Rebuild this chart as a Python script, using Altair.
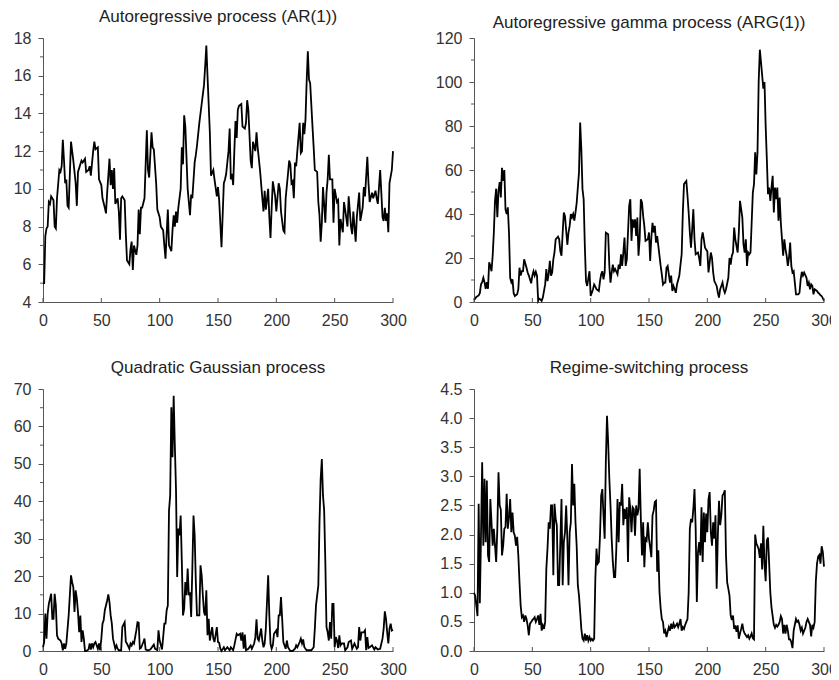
import altair as alt
import pandas as pd

FONT = "Liberation Sans"
AXC = "#555555"
LBC = "#333333"

X_TICKS = [0, 50, 100, 150, 200, 250, 300]

# ---- Autoregressive process (AR(1)) : (time, value)
AR1 = [(0,5.0),(1,5.0),(2,7.5),(3,7.9),(4,8.0),(5,9.3),(6,9.2),(7,9.6),(9,9.4),(10,8.0),(11,7.9),(12,9.5),(14,11.0),(15,10.9),(16,11.2),(17,12.6),(18,11.5),(19,10.3),(20,10.5),(21,9.1),(22,9.0),(24,12.5),(25,12.0),(26,11.5),(28,10.3),(29,9.1),(30,10.9),(31,11.1),(33,11.5),(34,11.4),(36,11.6),(37,10.9),(39,11.0),(40,11.2),(41,10.7),(43,12.0),(44,12.5),(45,12.1),(47,12.2),(48,10.5),(50,10.2),(51,9.5),(53,9.0),(54,8.7),(55,9.8),(57,11.6),(58,10.2),(59,11.0),(60,10.0),(61,11.1),(62,9.2),(64,9.5),(65,8.8),(66,7.3),(67,9.5),(68,9.6),(70,9.4),(71,7.6),(72,6.2),(74,6.0),(75,6.8),(76,7.2),(77,5.7),(78,7.0),(80,6.5),(81,7.0),(82,8.9),(83,7.6),(84,9.0),(85,9.0),(87,9.5),(89,13.1),(90,11.0),(91,10.6),(93,13.0),(94,12.2),(95,12.1),(97,10.3),(98,8.9),(100,8.5),(101,8.0),(103,7.8),(104,7.0),(105,6.3),(106,7.6),(107,8.9),(108,7.0),(110,6.7),(111,7.8),(112,8.6),(113,8.0),(114,8.8),(115,8.2),(116,9.0),(118,10.0),(119,12.2),(120,11.3),(121,13.9),(122,13.3),(124,10.0),(126,8.6),(127,9.7),(128,9.5),(130,11.4),(131,11.8),(132,12.3),(134,13.5),(136,14.5),(138,15.5),(139,16.5),(140,17.6),(141,16.0),(143,13.0),(144,10.7),(146,11.0),(147,10.5),(149,9.6),(150,10.1),(151,9.4),(153,6.9),(155,10.3),(156,10.5),(157,10.8),(159,12.0),(160,13.2),(161,10.5),(162,10.8),(163,10.2),(164,12.0),(165,13.6),(166,12.7),(167,14.2),(168,14.4),(170,14.5),(171,13.3),(173,13.2),(174,13.5),(175,14.7),(176,14.2),(178,11.5),(179,11.1),(180,12.5),(182,12.0),(183,13.0),(184,12.2),(186,11.0),(188,9.5),(189,8.8),(190,9.9),(191,8.9),(193,10.0),(194,8.5),(195,7.4),(196,9.0),(197,10.4),(199,9.6),(200,8.8),(202,10.3),(203,10.0),(204,8.8),(206,7.8),(207,7.7),(208,9.5),(210,10.8),(211,11.5),(212,11.3),(213,10.3),(214,10.4),(215,9.5),(216,11.4),(217,11.2),(218,12.0),(220,13.5),(221,11.9),(222,12.0),(223,13.5),(224,12.9),(225,13.7),(226,15.7),(227,17.3),(228,15.8),(229,15.6),(231,13.3),(232,12.2),(233,11.0),(235,10.9),(236,9.3),(237,8.6),(238,7.2),(239,8.2),(240,10.1),(242,8.2),(243,9.8),(244,10.5),(245,11.8),(246,10.5),(248,10.5),(249,8.2),(250,10.0),(252,9.3),(253,9.4),(254,7.0),(255,8.4),(257,7.7),(258,9.3),(259,8.9),(261,8.0),(262,9.6),(264,8.0),(265,7.6),(266,8.8),(268,7.2),(269,8.5),(271,9.8),(272,8.3),(274,9.0),(275,10.1),(276,9.6),(278,11.7),(279,10.3),(280,9.3),(282,9.8),(283,9.5),(285,9.9),(286,9.5),(287,9.2),(289,11.0),(290,9.8),(291,8.5),(292,8.3),(293,9.0),(294,8.3),(295,8.7),(296,7.7),(297,10.3),(299,11.0),(300,12.0)]

# ---- Autoregressive gamma process (ARG(1))
ARG1 = [(0,1.0),(1,1.5),(2,2.3),(4,3.0),(5,4.0),(6,8.0),(7,9.0),(8,11.0),(9,9.0),(10,6.0),(11,9.0),(12,6.0),(13,18.0),(14,16.5),(15,14.0),(16,21.0),(17,31.5),(18,46.0),(19,51.5),(20,38.5),(21,50.5),(22,54.5),(23,47.5),(24,61.0),(25,55.0),(26,60.0),(27,42.0),(28,40.0),(29,43.0),(30,31.5),(31,11.0),(32,9.0),(33,10.3),(34,4.0),(35,2.7),(37,3.5),(38,5.8),(39,15.6),(40,12.0),(41,14.0),(42,14.0),(43,19.4),(45,15.6),(46,13.4),(47,12.0),(49,8.5),(50,12.0),(51,14.0),(52,12.0),(53,13.7),(54,12.0),(55,0.5),(56,1.5),(57,1.2),(58,0.5),(59,2.0),(61,8.0),(62,15.0),(63,9.5),(64,12.6),(65,18.7),(66,12.0),(67,13.4),(68,19.4),(69,22.5),(70,28.5),(72,29.7),(73,28.5),(74,23.0),(75,21.0),(76,31.5),(77,40.7),(78,39.0),(80,26.0),(81,31.5),(82,34.6),(83,40.0),(84,38.5),(85,40.0),(86,37.0),(87,40.7),(88,45.0),(90,59.0),(91,81.6),(92,69.5),(93,51.3),(94,46.7),(95,25.5),(96,9.5),(97,7.3),(99,14.0),(100,2.7),(101,4.2),(102,5.8),(103,8.0),(104,7.0),(105,5.8),(107,5.0),(108,9.5),(109,12.6),(110,14.0),(111,10.3),(112,13.4),(113,31.5),(115,30.8),(116,16.4),(117,8.8),(118,13.4),(119,17.0),(120,14.0),(121,15.0),(123,12.6),(124,17.0),(125,15.0),(126,21.7),(127,16.4),(128,22.5),(129,29.3),(130,16.4),(131,19.4),(132,31.6),(133,43.7),(134,46.7),(135,27.8),(136,37.6),(137,33.8),(138,37.6),(139,30.0),(140,38.4),(141,21.0),(142,28.5),(143,46.7),(144,45.2),(145,39.0),(146,34.6),(147,27.8),(149,28.5),(150,31.6),(151,18.7),(152,29.3),(153,36.0),(154,31.6),(155,34.6),(156,27.0),(157,30.0),(158,25.5),(160,16.4),(161,12.6),(162,8.0),(163,8.8),(164,8.8),(165,15.6),(166,16.4),(168,8.8),(169,12.0),(170,5.0),(171,7.3),(172,5.8),(173,4.2),(174,8.0),(176,12.0),(177,17.0),(178,21.7),(179,40.7),(180,53.6),(182,55.0),(183,48.3),(184,40.7),(185,31.6),(186,24.7),(187,33.0),(188,42.2),(189,28.5),(190,21.7),(192,22.5),(193,20.0),(194,16.4),(195,28.5),(196,31.6),(197,28.5),(198,24.7),(200,23.0),(201,13.4),(202,18.0),(203,22.5),(204,20.0),(205,13.4),(206,9.5),(208,7.3),(209,4.2),(210,2.0),(211,5.8),(212,7.3),(213,8.8),(214,5.8),(215,4.2),(216,5.8),(218,11.0),(219,20.0),(220,17.0),(221,21.0),(222,22.5),(223,33.8),(224,28.5),(226,22.5),(227,31.6),(228,46.0),(229,42.2),(230,38.4),(231,26.2),(232,22.5),(233,28.5),(234,16.4),(235,22.5),(236,21.7),(237,22.5),(238,36.0),(239,49.7),(240,53.6),(241,68.0),(242,58.0),(243,68.0),(244,100.0),(245,114.7),(246,109.0),(247,103.0),(248,97.0),(249,100.0),(250,80.0),(251,65.0),(252,49.0),(253,52.0),(254,46.0),(255,52.0),(256,57.4),(257,40.7),(258,52.0),(259,46.7),(260,52.0),(261,37.0),(262,47.5),(263,36.0),(264,28.5),(265,21.0),(266,28.5),(267,24.0),(268,21.0),(269,16.4),(270,20.0),(271,27.0),(272,16.4),(273,13.4),(274,14.0),(275,8.8),(276,3.5),(278,3.5),(279,4.2),(280,10.3),(281,13.7),(282,12.0),(283,13.4),(285,11.0),(286,7.3),(287,8.8),(288,5.8),(289,8.0),(290,7.3),(291,3.5),(292,5.8),(294,5.0),(295,4.2),(296,3.8),(297,3.0),(298,2.7),(299,1.8),(300,0.5)]

# ---- Quadratic Gaussian process
QG = [(0,1.0),(1,2.4),(2,10.0),(3,3.3),(4,10.0),(5,12.6),(7,15.3),(8,8.6),(9,8.6),(10,15.3),(11,12.2),(12,4.2),(13,3.3),(15,2.8),(16,2.0),(17,0.2),(18,2.0),(19,0.6),(20,2.0),(22,9.5),(24,20.2),(25,18.4),(26,17.0),(27,10.4),(28,16.2),(29,14.0),(30,10.4),(31,5.0),(32,9.5),(33,2.4),(34,5.5),(35,3.3),(36,0.0),(37,0.0),(39,0.4),(40,2.0),(41,0.4),(42,2.0),(43,1.0),(44,2.0),(45,2.4),(47,0.6),(48,2.0),(49,0.2),(50,3.3),(51,7.3),(52,8.2),(53,10.9),(55,13.5),(56,15.1),(57,13.0),(58,9.5),(59,7.3),(60,3.3),(62,0.6),(63,1.5),(64,0.6),(65,0.2),(67,0.2),(68,6.4),(70,7.7),(71,2.4),(72,2.0),(74,0.6),(75,2.0),(76,1.5),(77,2.4),(78,2.0),(80,5.5),(81,7.7),(82,7.6),(83,0.6),(84,0.8),(86,2.4),(87,3.3),(88,0.4),(90,0.2),(92,0.4),(95,1.7),(96,0.6),(98,0.2),(99,5.5),(100,2.8),(102,0.4),(103,3.7),(104,7.3),(105,7.3),(106,10.9),(107,12.2),(108,37.5),(109,41.5),(110,65.1),(111,51.8),(112,68.2),(113,54.9),(114,43.3),(115,19.8),(116,32.7),(117,30.9),(118,36.2),(119,23.8),(120,9.5),(121,11.3),(122,18.4),(123,14.9),(124,22.0),(125,14.9),(126,15.7),(127,9.1),(128,22.0),(129,36.2),(130,30.9),(131,18.4),(132,9.5),(133,9.5),(134,9.5),(135,22.9),(136,20.2),(137,14.9),(138,10.4),(139,9.5),(140,16.2),(141,4.2),(142,8.6),(143,2.8),(144,4.6),(145,6.4),(146,3.3),(147,2.4),(149,6.4),(150,2.4),(151,2.2),(152,0.6),(153,0.0),(155,1.0),(156,0.2),(158,1.0),(160,0.2),(161,1.0),(163,0.2),(164,1.5),(166,4.6),(167,4.2),(169,4.6),(170,2.8),(171,5.0),(172,0.6),(173,4.4),(174,0.2),(176,0.6),(178,1.5),(179,0.6),(181,2.0),(182,3.7),(183,8.5),(184,3.3),(185,2.8),(187,6.0),(188,2.8),(189,1.0),(190,2.0),(191,6.0),(193,20.2),(194,9.5),(195,2.0),(196,0.6),(197,1.5),(198,4.6),(200,5.5),(201,3.7),(202,9.5),(203,9.5),(204,14.4),(205,8.6),(206,2.4),(208,0.6),(209,2.8),(210,1.0),(212,0.0),(214,0.0),(216,0.6),(217,1.5),(218,1.0),(220,2.4),(221,3.3),(222,2.0),(223,3.1),(224,1.0),(226,0.2),(228,0.2),(230,0.2),(232,1.0),(233,6.0),(234,12.2),(236,17.5),(237,34.4),(238,46.0),(239,51.3),(240,41.5),(241,37.5),(242,23.8),(243,6.4),(244,5.0),(245,2.8),(246,7.7),(247,3.3),(248,12.6),(249,12.6),(250,1.0),(251,3.7),(252,2.8),(253,0.8),(254,4.2),(255,1.5),(256,2.0),(258,2.0),(259,0.2),(261,1.0),(262,2.4),(264,2.8),(265,0.6),(267,2.0),(269,0.6),(270,1.0),(271,6.4),(272,2.8),(273,5.0),(275,5.0),(276,5.5),(277,0.2),(278,3.7),(279,0.8),(280,1.0),(282,1.5),(284,0.4),(285,1.0),(287,0.4),(289,0.6),(291,3.3),(292,6.0),(293,10.6),(294,8.6),(295,5.0),(296,2.0),(297,6.0),(298,7.3),(299,5.5),(300,5.7)]

# ---- Regime-switching process (values at t = 0..300)
RS = [1.0,0.95,0.78,0.6,2.53,0.82,1.98,3.24,1.81,2.96,1.87,2.93,1.64,1.53,2.61,2.21,1.81,2.1,1.81,1.53,
      2.1,3.07,2.5,2.43,1.64,1.81,2.1,2.13,2.7,2.1,2.3,2.61,2.04,2.38,2.04,1.98,1.81,1.96,1.64,1.18,
      0.78,0.58,0.61,0.5,0.61,0.55,0.44,0.27,0.47,0.5,0.53,0.55,0.58,0.5,0.55,0.61,0.45,0.64,0.35,0.44,
      0.38,0.5,1.41,1.76,2.21,2.1,2.5,2.5,1.3,2.53,2.27,2.16,1.13,1.13,1.87,2.61,1.13,1.87,2.04,2.5,
      1.93,1.13,2.04,2.21,3.21,2.5,2.87,2.21,1.81,1.13,0.95,0.67,0.38,0.21,0.18,0.3,0.18,0.27,0.18,0.24,
      0.18,0.21,0.18,0.21,1.24,1.76,1.5,1.53,1.98,2.67,2.78,2.33,1.93,3.24,4.04,3.58,2.96,2.5,1.93,1.53,
      1.27,1.27,1.76,2.61,1.87,2.56,2.5,2.87,2.16,2.44,2.27,2.47,1.53,2.64,2.44,2.04,2.47,2.44,1.98,2.5,
      2.33,2.44,3.13,2.27,1.64,2.21,1.44,1.93,1.9,2.21,1.93,1.78,1.61,2.33,2.41,2.56,2.58,1.36,1.73,1.01,
      0.73,0.55,0.5,0.3,0.35,0.24,0.33,0.41,0.35,0.47,0.38,0.47,0.41,0.44,0.47,0.41,0.47,0.55,0.35,0.41,
      0.38,0.45,0.5,0.55,1.01,2.1,2.27,2.21,2.44,2.78,2.1,0.84,1.7,1.87,1.64,2.47,1.53,2.38,1.87,2.36,
      2.04,2.61,2.73,2.04,1.81,2.21,1.93,2.33,1.07,1.98,2.58,2.16,2.33,2.67,2.7,2.76,1.64,1.18,1.07,0.95,
      0.61,0.53,0.61,0.38,0.44,0.33,0.44,0.21,0.3,0.38,0.47,0.35,0.3,0.27,0.24,0.27,0.21,0.25,0.3,0.22,
      0.2,2.0,1.85,1.8,1.75,1.6,1.85,1.4,2.15,1.5,1.2,1.9,1.95,1.5,1.0,0.75,0.6,0.45,0.4,0.45,
      0.42,0.45,0.5,0.6,0.55,0.3,0.45,0.3,0.45,0.35,0.2,0.2,0.15,0.05,0.35,0.45,0.55,0.5,0.52,0.45,
      0.35,0.4,0.3,0.35,0.4,0.5,0.55,0.5,0.45,0.25,0.45,0.4,0.5,1.2,1.5,1.62,1.65,1.5,1.8,1.7,
      1.45]

TITLES = ["Autoregressive process (AR(1))", "Autoregressive gamma process (ARG(1))",
          "Quadratic Gaussian process", "Regime-switching process"]

AR1_MAJOR = [4, 6, 8, 10, 12, 14, 16, 18]
AR1_MINOR = [5, 7, 9, 11, 13, 15, 17]
ARG_MAJOR = [0, 20, 40, 60, 80, 100, 120]
ARG_MINOR = [10, 30, 50, 70, 90, 110]
QG_MAJOR = [0, 10, 20, 30, 40, 50, 60, 70]
QG_MINOR = [5, 15, 25, 35, 45, 55, 65]
RS_MAJOR = [0.0, 0.5, 1.0, 1.5, 2.0, 2.5, 3.0, 3.5, 4.0, 4.5]

W = 350
H_TOP, H_BOTTOM = 264, 262


def panel(df, title, ydom, major, minor, fmt, title_offset, h):
    xs = alt.Scale(domain=[0, 300], nice=False, zero=False)
    ys = alt.Scale(domain=ydom, nice=False, zero=False)
    xax = alt.Axis(values=X_TICKS, tickSize=0, labelPadding=10, title=None, grid=False,
                   domainColor=AXC, labelColor=LBC, labelFont=FONT, labelFontSize=16,
                   labelFlush=False)
    yax = alt.Axis(values=major, format=fmt, tickSize=5, tickColor=AXC, labelPadding=7,
                   title=None, grid=False, domainColor=AXC, labelColor=LBC,
                   labelFont=FONT, labelFontSize=16)
    line = alt.Chart(df).mark_line(color="#000000", strokeWidth=1.8).encode(
        x=alt.X("t:Q", scale=xs, axis=xax),
        y=alt.Y("v:Q", scale=ys, axis=yax),
    )
    xt = alt.Chart(pd.DataFrame({"t": X_TICKS})).mark_rule(color=AXC, strokeWidth=1).encode(
        x=alt.X("t:Q", scale=xs, axis=xax), y=alt.value(h), y2=alt.value(h - 4))
    layers = [line, xt]
    if minor:
        mt = alt.Chart(pd.DataFrame({"v": minor})).mark_rule(color=AXC, strokeWidth=1).encode(
            y=alt.Y("v:Q", scale=ys, axis=yax), x=alt.value(-3), x2=alt.value(0))
        layers.append(mt)
    return alt.layer(*layers).properties(
        width=W, height=h,
        title=alt.TitleParams(title, font=FONT, fontSize=17, fontWeight="normal",
                              color="#222222", anchor="middle", frame="group",
                              offset=title_offset))


df_ar = pd.DataFrame(AR1, columns=["t", "v"])
df_arg = pd.DataFrame(ARG1, columns=["t", "v"])
df_qg = pd.DataFrame(QG, columns=["t", "v"])
df_rs = pd.DataFrame({"t": list(range(len(RS))), "v": RS})

p1 = panel(df_ar, TITLES[0], [4, 18], AR1_MAJOR, AR1_MINOR, "d", 4, H_TOP)
p2 = panel(df_arg, TITLES[1], [0, 120], ARG_MAJOR, ARG_MINOR, "d", -2, H_TOP)
p3 = panel(df_qg, TITLES[2], [0, 70], QG_MAJOR, QG_MINOR, "d", 4, H_BOTTOM)
p4 = panel(df_rs, TITLES[3], [0, 4.5], RS_MAJOR, None, ".1f", 4, H_BOTTOM)

chart = alt.concat(p1, p2, p3, p4, columns=2, spacing={"row": 87, "column": 81},
                   bounds="flush").properties(
    padding={"left": 5, "top": 0, "right": -7, "bottom": 0}
).configure_view(stroke=None)

chart.save("out.html", embed_options={"renderer": "svg", "actions": False})
